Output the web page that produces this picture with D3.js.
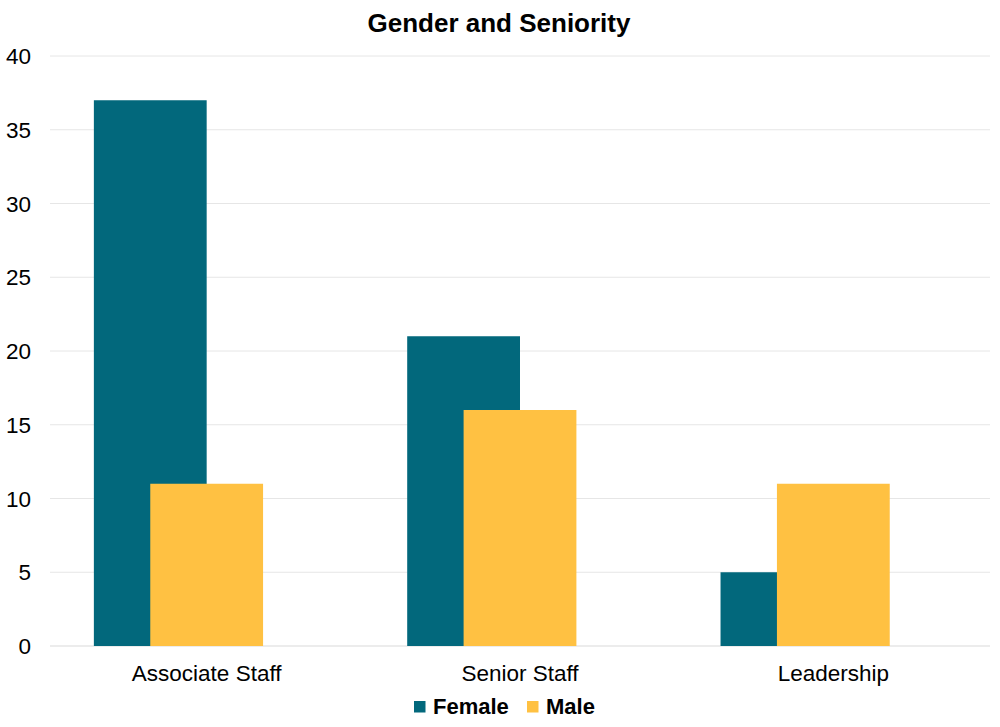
<!DOCTYPE html>
<html><head><meta charset="utf-8">
<script src="https://cdn.jsdelivr.net/npm/d3@7"></script>
<style>body{margin:0;background:#fff}svg{display:block}text{font-family:"Liberation Sans",Arial,sans-serif}</style>
</head><body>
<svg id="c" width="1000" height="727"></svg>
<script>
const categories = ["Associate Staff", "Senior Staff", "Leadership"];
const seriesNames = ["Female", "Male"];
const female = [37, 21, 5];
const male = [11, 16, 11];
const yTicks = [0, 5, 10, 15, 20, 25, 30, 35, 40];
const colors = ["#02687C", "#FFC142"];

const svg = d3.select("#c");
const L = 50, R = 990, T = 56, B = 646;
const x = d3.scaleBand().domain(categories).range([L, R]).padding(0);
const y = d3.scaleLinear().domain([0, 40]).range([B, T]);
const bw = x.bandwidth() * 0.36;

svg.append("g").selectAll("line").data(yTicks).join("line")
  .attr("x1", L).attr("x2", R)
  .attr("y1", d => y(d)).attr("y2", d => y(d))
  .attr("stroke", d => d === 0 ? "#d9d9d9" : "#e6e6e6").attr("stroke-width", 1);

svg.append("g").selectAll("text").data(yTicks).join("text")
  .attr("x", 31).attr("y", d => y(d) + 8)
  .attr("text-anchor", "end").attr("font-size", 22.5).attr("fill", "#000")
  .text(d => d);

const series = [female, male];
series.forEach((vals, si) => {
  svg.append("g").selectAll("rect").data(vals).join("rect")
    .attr("x", (d, i) => x(categories[i]) + x.bandwidth() / 2 - bw + si * bw / 2)
    .attr("width", bw)
    .attr("y", d => y(d))
    .attr("height", d => y(0) - y(d))
    .attr("fill", colors[si]);
});

svg.append("g").selectAll("text").data(categories).join("text")
  .attr("x", d => x(d) + x.bandwidth() / 2).attr("y", 681)
  .attr("text-anchor", "middle").attr("font-size", 22.5).attr("fill", "#000")
  .text(d => d);

svg.append("text").attr("x", 499).attr("y", 32).attr("text-anchor", "middle")
  .attr("font-size", 26).attr("font-weight", "bold").text("Gender and Seniority");

const legX = [414, 527];
seriesNames.forEach((n, i) => {
  svg.append("rect").attr("x", legX[i]).attr("y", 701).attr("width", 11.5).attr("height", 11.5).attr("fill", colors[i]);
  svg.append("text").attr("x", legX[i] + 19).attr("y", 713.5).attr("font-size", 22).attr("font-weight", "bold").text(n);
});
</script>
</body></html>
